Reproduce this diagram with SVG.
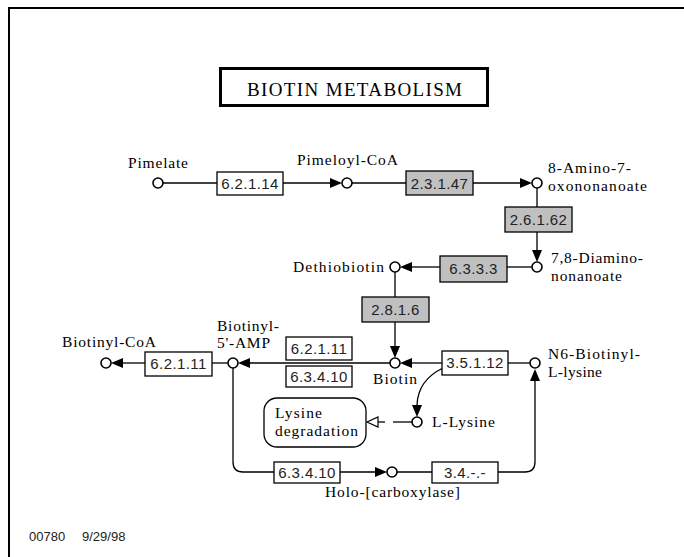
<svg xmlns="http://www.w3.org/2000/svg" width="684" height="557" viewBox="0 0 684 557">
<style>
.ln{stroke:#000;stroke-width:1.3;fill:none}
.cpd{fill:#fff;stroke:#000;stroke-width:1.6}
.ec{fill:#fff;stroke:#000;stroke-width:1.3}
.ecg{fill:#c0c0c0;stroke:#000;stroke-width:1.3}
.et{font-family:"Liberation Sans",Arial,sans-serif;font-size:15px;letter-spacing:0.4px;fill:#222;text-anchor:middle}
.lb{font-family:"Liberation Serif","Times New Roman",serif;font-size:15.5px;fill:#000}
.ah{fill:#000}
</style>
<rect width="684" height="557" fill="#fff"/>
<path d="M9,557 V8 H684" stroke="#000" stroke-width="2" fill="none"/>
<g id="title">
<rect x="220.5" y="68.5" width="267" height="37" fill="#fff" stroke="#000" stroke-width="3"/>
<text x="247" y="96" class="lb" style="font-size:19px" textLength="215" lengthAdjust="spacing">BIOTIN METABOLISM</text>
</g>
<g id="connectors">
<line class="ln" x1="163" y1="183" x2="217" y2="183"/>
<line class="ln" x1="283" y1="183" x2="332" y2="183"/>
<polygon class="ah" points="342,183 330,178 330,188"/>
<line class="ln" x1="352" y1="183" x2="406" y2="183"/>
<line class="ln" x1="473" y1="183" x2="522" y2="183"/>
<polygon class="ah" points="532,183 520,178 520,188"/>
<line class="ln" x1="537" y1="188" x2="537" y2="207"/>
<line class="ln" x1="537" y1="232" x2="537" y2="252"/>
<polygon class="ah" points="537,262 532,250 542,250"/>
<line class="ln" x1="532" y1="267" x2="507" y2="267"/>
<line class="ln" x1="440" y1="267" x2="410" y2="267"/>
<polygon class="ah" points="400,267 412,262 412,272"/>
<line class="ln" x1="395" y1="272" x2="395" y2="297"/>
<line class="ln" x1="395" y1="322" x2="395" y2="348"/>
<polygon class="ah" points="395,358 390,346 400,346"/>
<line class="ln" x1="390" y1="363" x2="248" y2="363"/>
<polygon class="ah" points="238,363 250,358 250,368"/>
<line class="ln" x1="530" y1="363" x2="508" y2="363"/>
<line class="ln" x1="442" y1="363" x2="410" y2="363"/>
<polygon class="ah" points="400,363 412,358 412,368"/>
<path class="ln" d="M443,368 Q418,380 417,405"/>
<polygon class="ah" points="417,417 412,405 422,405"/>
<line class="ln" x1="412" y1="422" x2="393" y2="422"/>
<line class="ln" x1="385" y1="422" x2="378" y2="422"/>
<polygon points="367,422 378,417 378,427" fill="#fff" stroke="#000" stroke-width="1.2"/>
<line class="ln" x1="228" y1="363" x2="212" y2="363"/>
<line class="ln" x1="145" y1="363" x2="121" y2="363"/>
<polygon class="ah" points="111,363 123,358 123,368"/>
<path class="ln" d="M233,368 V462 Q233,472 243,472 H274"/>
<line class="ln" x1="340" y1="472" x2="377" y2="472"/>
<polygon class="ah" points="387,472 375,467 375,477"/>
<line class="ln" x1="397" y1="472" x2="432" y2="472"/>
<path class="ln" d="M498,472 H525 Q535,472 535,462 V380"/>
<polygon class="ah" points="535,369 530,381 540,381"/>
</g>
<g id="pimelate"><circle class="cpd" cx="158" cy="183" r="5"/><text class="lb" x="128" y="168" textLength="60" lengthAdjust="spacing">Pimelate</text></g>
<g id="pimeloyl-coa"><circle class="cpd" cx="347" cy="183" r="5"/><text class="lb" x="297" y="165" textLength="101" lengthAdjust="spacing">Pimeloyl-CoA</text></g>
<g id="amino-oxo"><circle class="cpd" cx="537" cy="183" r="5"/><text class="lb" x="548" y="173" textLength="83" lengthAdjust="spacing">8-Amino-7-</text><text class="lb" x="548" y="191" textLength="99" lengthAdjust="spacing">oxononanoate</text></g>
<g id="diamino"><circle class="cpd" cx="537" cy="267" r="5"/><text class="lb" x="551" y="263" textLength="92" lengthAdjust="spacing">7,8-Diamino-</text><text class="lb" x="551" y="281" textLength="71" lengthAdjust="spacing">nonanoate</text></g>
<g id="dethiobiotin"><circle class="cpd" cx="395" cy="267" r="5"/><text class="lb" x="293" y="272" textLength="91" lengthAdjust="spacing">Dethiobiotin</text></g>
<g id="biotin"><circle class="cpd" cx="395" cy="363" r="5"/><text class="lb" x="373" y="384" textLength="44" lengthAdjust="spacing">Biotin</text></g>
<g id="n6-biotinyl-lysine"><circle class="cpd" cx="535" cy="363" r="5"/><text class="lb" x="548" y="359" textLength="92" lengthAdjust="spacing">N6-Biotinyl-</text><text class="lb" x="548" y="377" textLength="54" lengthAdjust="spacing">L-lysine</text></g>
<g id="l-lysine"><circle class="cpd" cx="417" cy="422" r="5"/><text class="lb" x="432" y="427" textLength="63" lengthAdjust="spacing">L-Lysine</text></g>
<g id="biotinyl-amp"><circle class="cpd" cx="233" cy="363" r="5"/><text class="lb" x="217" y="331" textLength="62" lengthAdjust="spacing">Biotinyl-</text><text class="lb" x="217" y="348" textLength="53" lengthAdjust="spacing">5'-AMP</text></g>
<g id="biotinyl-coa"><circle class="cpd" cx="106" cy="363" r="5"/><text class="lb" x="62" y="347" textLength="94" lengthAdjust="spacing">Biotinyl-CoA</text></g>
<g id="holo-carboxylase"><circle class="cpd" cx="392" cy="472" r="5"/><text class="lb" x="325" y="497" textLength="135" lengthAdjust="spacing">Holo-[carboxylase]</text></g>
<g id="lysine-degradation"><rect x="264" y="398" width="102" height="49" rx="13" fill="#fff" stroke="#000" stroke-width="1.3"/><text class="lb" x="275" y="418" textLength="47" lengthAdjust="spacing">Lysine</text><text class="lb" x="275" y="436" textLength="83" lengthAdjust="spacing">degradation</text></g>
<g id="ec-6.2.1.14"><rect class="ec" x="217" y="172" width="66" height="23"/><text class="et" x="250" y="189">6.2.1.14</text></g>
<g id="ec-2.3.1.47"><rect class="ecg" x="406" y="171" width="67" height="24"/><text class="et" x="439.5" y="189">2.3.1.47</text></g>
<g id="ec-2.6.1.62"><rect class="ecg" x="505" y="207" width="67" height="25"/><text class="et" x="538.5" y="225">2.6.1.62</text></g>
<g id="ec-6.3.3.3"><rect class="ecg" x="440" y="256" width="67" height="26"/><text class="et" x="473.5" y="274">6.3.3.3</text></g>
<g id="ec-2.8.1.6"><rect class="ecg" x="362" y="297" width="67" height="25"/><text class="et" x="395.5" y="315">2.8.1.6</text></g>
<g id="ec-6.2.1.11-a"><rect class="ec" x="286" y="337" width="66" height="23"/><text class="et" x="319" y="354">6.2.1.11</text></g>
<g id="ec-6.3.4.10-a"><rect class="ec" x="286" y="366" width="66" height="21"/><text class="et" x="319" y="382">6.3.4.10</text></g>
<g id="ec-3.5.1.12"><rect class="ec" x="442" y="351" width="66" height="24"/><text class="et" x="475" y="368">3.5.1.12</text></g>
<g id="ec-6.2.1.11-b"><rect class="ec" x="145" y="352" width="67" height="24"/><text class="et" x="178.5" y="369">6.2.1.11</text></g>
<g id="ec-6.3.4.10-b"><rect class="ec" x="274" y="462" width="66" height="21"/><text class="et" x="307" y="478">6.3.4.10</text></g>
<g id="ec-3.4.-.-"><rect class="ec" x="432" y="462" width="66" height="21"/><text class="et" x="465" y="478">3.4.-.-</text></g>
<text x="29" y="541" style="font-family:'Liberation Sans',Arial,sans-serif;font-size:13px;fill:#222">00780</text>
<text x="82" y="541" style="font-family:'Liberation Sans',Arial,sans-serif;font-size:13px;fill:#222">9/29/98</text>
</svg>
